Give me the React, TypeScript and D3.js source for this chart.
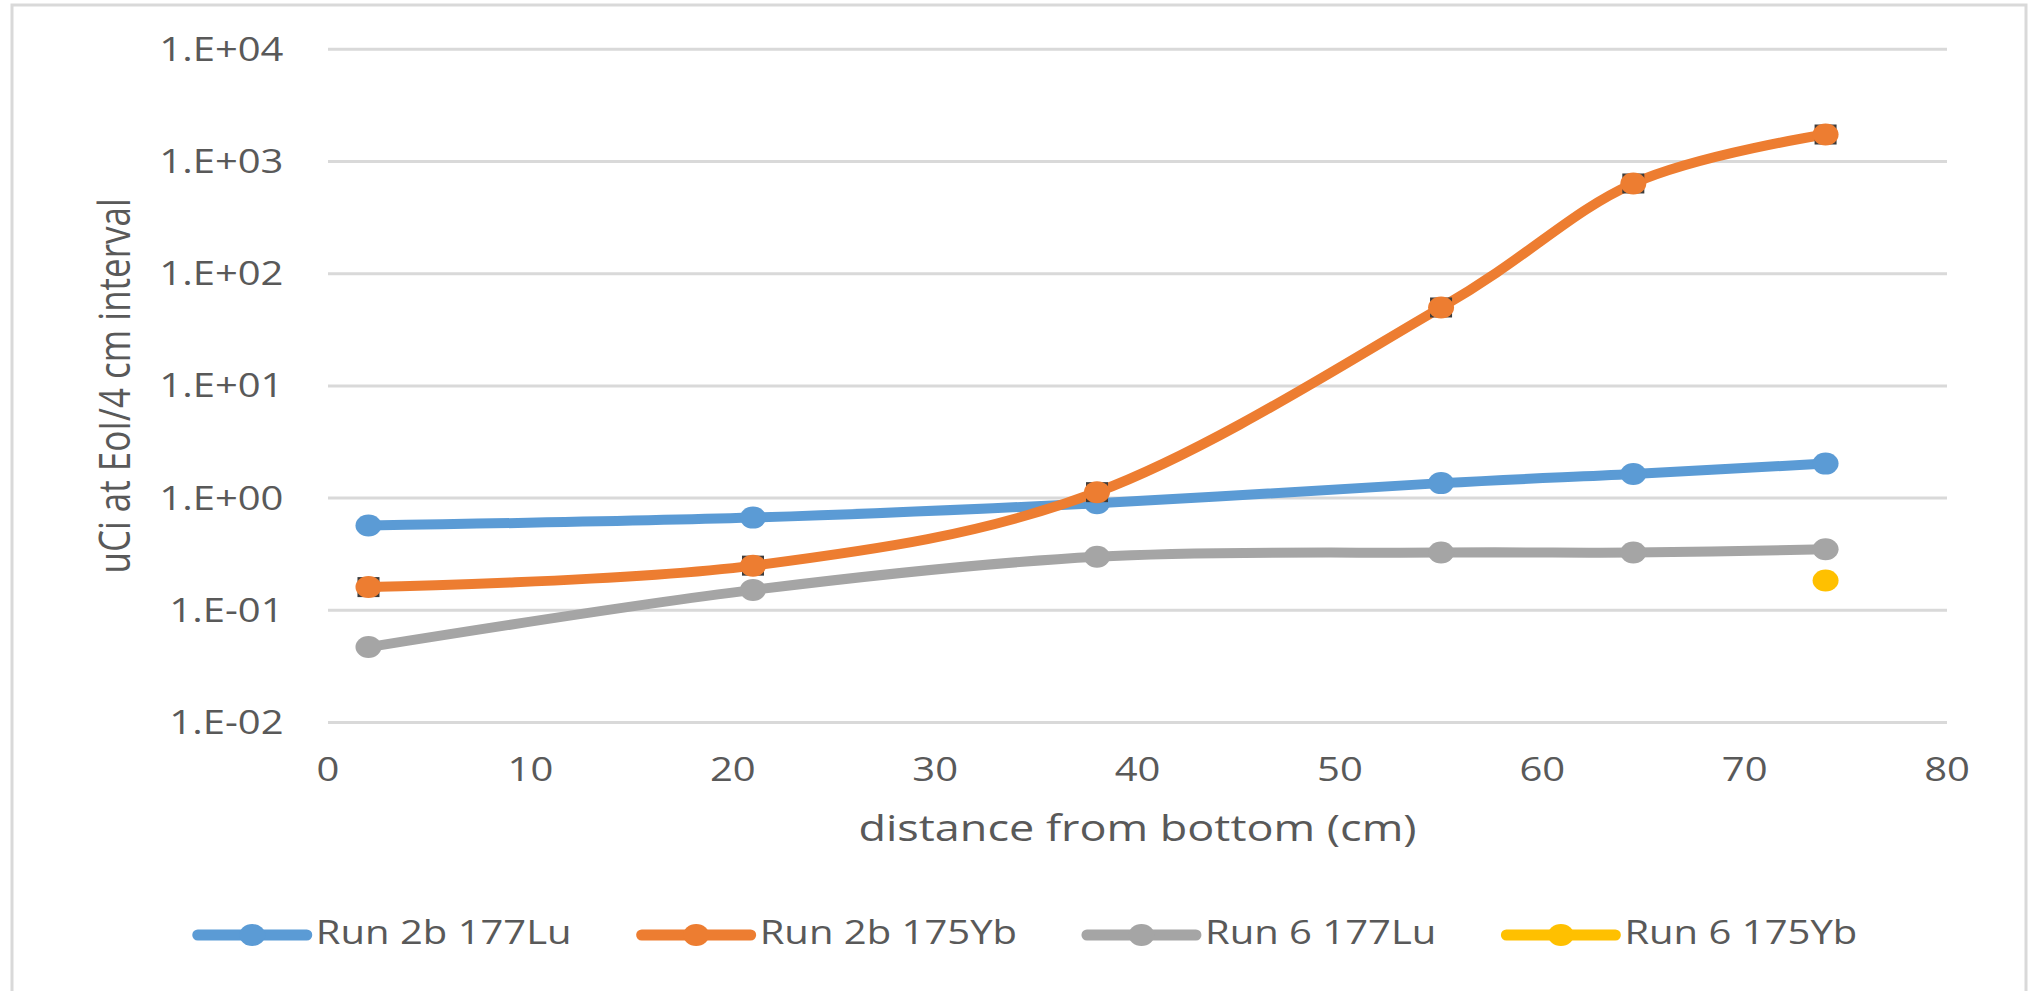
import React, { useEffect, useRef } from "react";
import * as d3 from "d3";

const W = 2034;
const H = 991;

const distances = [2, 21, 38, 55, 64.5, 74];
const run2b177Lu = [0.57, 0.67, 0.9, 1.36, 1.64, 2.03];
const run2b175Yb = [0.161, 0.25, 1.13, 50, 637, 1740];
const run6177Lu = [0.047, 0.152, 0.3, 0.327, 0.327, 0.35];
const run6175Yb = [null, null, null, null, null, 0.184];

const seriesNames = ["Run 2b 177Lu", "Run 2b 175Yb", "Run 6 177Lu", "Run 6 175Yb"];
const seriesColors = ["#5B9BD5", "#ED7D31", "#A5A5A5", "#FFC000"];
const seriesValues = [run2b177Lu, run2b175Yb, run6177Lu, run6175Yb];

const xTicks = [0, 10, 20, 30, 40, 50, 60, 70, 80];
const yTicks = [1e-2, 1e-1, 1, 10, 100, 1000, 10000];
const yTickLabels = ["1.E-02", "1.E-01", "1.E+00", "1.E+01", "1.E+02", "1.E+03", "1.E+04"];
const xTitle = "distance from bottom (cm)";
const yTitle = "uCi at EoI/4 cm interval";

const FONT = "'Open Sans', sans-serif";
const TXT = "#595959";
const GRID = "#D9D9D9";
const SX = 1.25;

export default function App() {
  const ref = useRef<SVGSVGElement | null>(null);

  useEffect(() => {
    const svg = d3.select(ref.current);
    svg.selectAll("*").remove();

    const plot = { left: 328, right: 1947, top: 49.3, bottom: 722.5 };
    const x = d3.scaleLinear().domain([0, 80]).range([plot.left, plot.right]);
    const y = d3.scaleLog().domain([1e-2, 1e4]).range([plot.bottom, plot.top]);

    svg.append("rect").attr("width", W).attr("height", H).attr("fill", "#fff");
    svg
      .append("rect")
      .attr("x", 12)
      .attr("y", 5)
      .attr("width", 2014)
      .attr("height", 1010)
      .attr("fill", "#fff")
      .attr("stroke", GRID)
      .attr("stroke-width", 3);

    // gridlines
    svg
      .append("g")
      .selectAll("line")
      .data(yTicks)
      .join("line")
      .attr("x1", plot.left)
      .attr("x2", plot.right)
      .attr("y1", (d) => y(d))
      .attr("y2", (d) => y(d))
      .attr("stroke", GRID)
      .attr("stroke-width", 3);

    // y tick labels
    svg
      .append("g")
      .selectAll("text")
      .data(yTicks)
      .join("text")
      .attr("transform", (d) => `translate(283.5,${y(d) + 11.5}) scale(${SX},1)`)
      .attr("text-anchor", "end")
      .attr("font-family", FONT)
      .attr("font-size", 32)
      .attr("fill", TXT)
      .text((d, i) => yTickLabels[i]);

    // x tick labels
    svg
      .append("g")
      .selectAll("text")
      .data(xTicks)
      .join("text")
      .attr("transform", (d) => `translate(${x(d)},780.7) scale(${SX},1)`)
      .attr("text-anchor", "middle")
      .attr("font-family", FONT)
      .attr("font-size", 32)
      .attr("fill", TXT)
      .text((d) => String(d));

    // axis titles
    svg
      .append("text")
      .attr("transform", `translate(${(plot.left + plot.right) / 2},841) scale(${SX},1)`)
      .attr("text-anchor", "middle")
      .attr("font-family", FONT)
      .attr("font-size", 36)
      .attr("fill", TXT)
      .text(xTitle);

    svg
      .append("text")
      .attr("transform", `translate(130,${(plot.top + plot.bottom) / 2}) scale(${SX},1) rotate(-90)`)
      .attr("text-anchor", "middle")
      .attr("font-family", FONT)
      .attr("font-size", 35)
      .attr("fill", TXT)
      .text(yTitle);

    // series
    const line = d3
      .line<{ x: number; v: number | null }>()
      .defined((d) => d.v != null)
      .x((d) => x(d.x))
      .y((d) => y(d.v as number))
      .curve(d3.curveCatmullRom.alpha(0));

    const drawMarker = (g: any, cx: number, cy: number, i: number, withEdge: boolean) => {
      if (withEdge) {
        g.append("rect")
          .attr("x", cx - 11)
          .attr("y", cy - 10)
          .attr("width", 22)
          .attr("height", 20)
          .attr("fill", "#3b3b3b");
      }
      g.append("ellipse")
        .attr("cx", cx)
        .attr("cy", cy)
        .attr("rx", 13)
        .attr("ry", 11)
        .attr("fill", seriesColors[i]);
    };

    seriesValues.forEach((vals, i) => {
      const pts = distances.map((dx, k) => ({ x: dx, v: vals[k] }));
      const g = svg.append("g");
      g.append("path")
        .attr("d", line(pts) || "")
        .attr("fill", "none")
        .attr("stroke", seriesColors[i])
        .attr("stroke-width", 10)
        .attr("stroke-linecap", "round")
        .attr("stroke-linejoin", "round");
      pts
        .filter((p) => p.v != null)
        .forEach((p) => drawMarker(g, x(p.x), y(p.v as number), i, i === 1));
    });

    // legend
    const lg = svg.append("g");
    let cursor = 0;
    const lineLen = 109;
    const textGap = 118;
    const itemGap = 70;
    seriesNames.forEach((name, i) => {
      const it = lg.append("g");
      it.append("line")
        .attr("x1", 0)
        .attr("x2", lineLen)
        .attr("y1", 0)
        .attr("y2", 0)
        .attr("stroke", seriesColors[i])
        .attr("stroke-width", 11)
        .attr("stroke-linecap", "round");
      drawMarker(it, lineLen / 2, 0, i, false);
      const t = it
        .append("text")
        .attr("transform", `translate(${textGap},9) scale(${SX},1)`)
        .attr("font-family", FONT)
        .attr("font-size", 32)
        .attr("fill", TXT)
        .text(name);
      const w = (t.node() as SVGTextElement).getComputedTextLength() * SX;
      it.attr("transform", `translate(${cursor},0)`);
      cursor += textGap + w + itemGap;
    });
    const total = cursor - itemGap;
    lg.attr("transform", `translate(${1027.5 - total / 2},935)`);
  }, []);

  return (
    <svg
      ref={ref}
      width={W}
      height={H}
      style={{ position: "absolute", left: 0, top: 0, display: "block" }}
    />
  );
}
